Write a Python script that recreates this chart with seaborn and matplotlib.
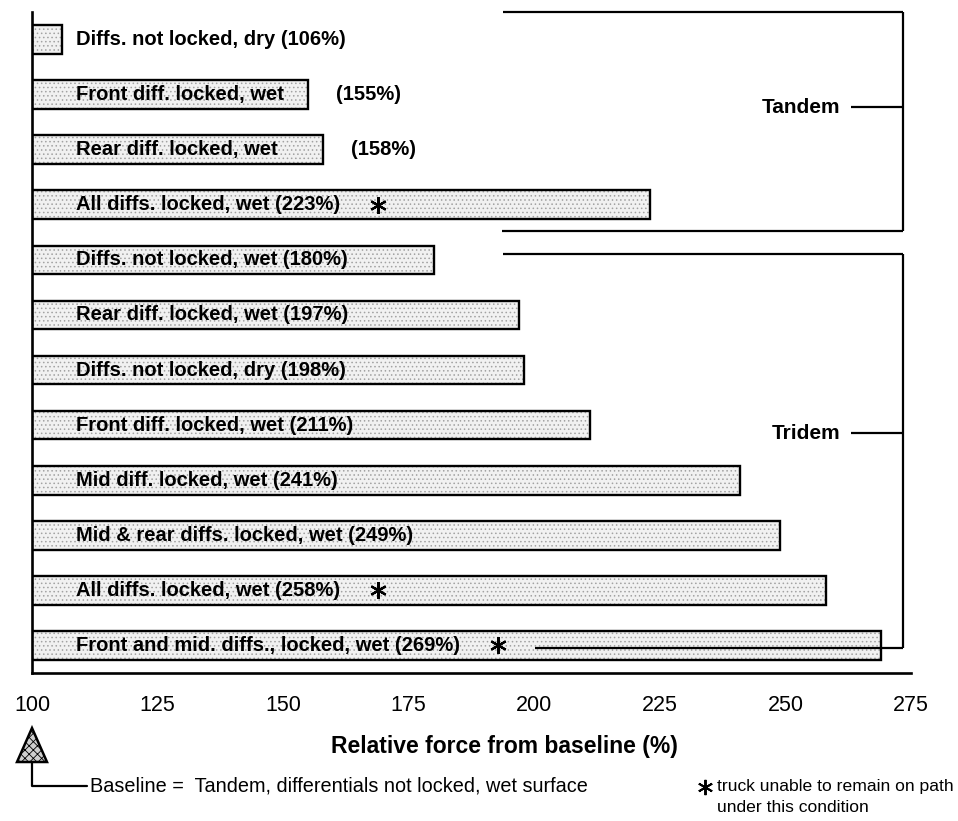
import numpy as np
import pandas as pd
import matplotlib
matplotlib.use('Agg')
import matplotlib.pyplot as plt
import seaborn as sns
from matplotlib.patches import Polygon
from matplotlib.lines import Line2D

# ---------------- data ----------------
CONDITIONS = [
    'Diffs. not locked, dry',
    'Front diff. locked, wet',
    'Rear diff. locked, wet',
    'All diffs. locked, wet',
    'Diffs. not locked, wet',
    'Rear diff. locked, wet',
    'Diffs. not locked, dry',
    'Front diff. locked, wet',
    'Mid diff. locked, wet',
    'Mid & rear diffs. locked, wet',
    'All diffs. locked, wet',
    'Front and mid. diffs., locked, wet',
]
FORCE = [106, 155, 158, 223, 180, 197, 198, 211, 241, 249, 258, 269]
AXLE = ['Tandem'] * 4 + ['Tridem'] * 8
STUCK = [False, False, False, True, False, False, False, False, False, False, True, True]
PCT_OUTSIDE = [False, True, True, False, False, False, False, False, False, False, False, False]
XTICKS = [100, 125, 150, 175, 200, 225, 250, 275]

# ---------------- style ----------------
sns.set_theme(style='white')
plt.rcParams['font.family'] = ['Liberation Sans', 'DejaVu Sans']
plt.rcParams['text.color'] = 'black'
plt.rcParams['axes.labelcolor'] = 'black'
plt.rcParams['xtick.color'] = 'black'
plt.rcParams['hatch.linewidth'] = 0.6

W, H = 958, 821
fig = plt.figure(figsize=(W / 100, H / 100), dpi=100)
ax = fig.add_axes([32 / W, 1 - 673 / H, 879 / W, 661 / H])


def fx(x):
    return x / W


def fy(y):
    return 1 - y / H


df = pd.DataFrame({'row': range(len(FORCE)), 'force': FORCE, 'cond': CONDITIONS})

# stippled fill, then black outline on top
sns.barplot(data=df, x='force', y='row', orient='y', color='#f1f1f1',
            edgecolor='#a2a2a2', linewidth=0, hatch='....', width=0.52, ax=ax)
sns.barplot(data=df, x='force', y='row', orient='y', color='black', fill=False,
            linewidth=1.7, width=0.52, ax=ax)

ax.set_xlim(100, 275)
ax.set_ylim(len(FORCE) - 0.5, -0.5)
ax.set_xticks(XTICKS)
ax.set_yticks([])
ax.set_ylabel('')
for s in ['top', 'right']:
    ax.spines[s].set_visible(False)
for s in ['left', 'bottom']:
    ax.spines[s].set_linewidth(1.9)
    ax.spines[s].set_color('black')
ax.tick_params(axis='x', direction='inout', length=14, width=1.5, pad=9,
               labelsize=15.5, colors='black')

ax.set_xlabel('Relative force from baseline (%)', fontsize=16.5, fontweight='bold')
ax.xaxis.label.set_va('center')
ax.xaxis.set_label_coords(0.538, -0.111)

LABEL_FS = 14.5

# labels in the bars
star_refs = []
for i, (name, val) in enumerate(zip(CONDITIONS, FORCE)):
    txt = name if PCT_OUTSIDE[i] else f'{name} ({val}%)'
    t = ax.text(108.8, i, txt, ha='left', va='center', fontsize=LABEL_FS,
                fontweight='bold', color='black')
    if PCT_OUTSIDE[i]:
        ax.annotate(f'({val}%)', xy=(val, i), xytext=(20, 0),
                    textcoords='offset points', ha='left', va='center',
                    fontsize=LABEL_FS, fontweight='bold')
    if STUCK[i]:
        star_refs.append((i, t))

# group brackets
def bracket(y0, y1, x0_top, x0_bot, ylab, name):
    xr = 273.5
    kw = dict(color='black', lw=1.6, clip_on=False, solid_capstyle='butt')
    ax.plot([x0_top, xr], [y0, y0], **kw)
    ax.plot([x0_bot, xr], [y1, y1], **kw)
    ax.plot([xr, xr], [y0, y1], **kw)
    ax.plot([263, xr], [ylab, ylab], **kw)
    ax.text(261, ylab, name, ha='right', va='center', fontsize=15,
            fontweight='bold')

bracket(-0.5, 3.47, 193.8, 193.6, 1.23, 'Tandem')
bracket(3.9, 11.05, 193.8, 200.2, 7.15, 'Tridem')

# asterisks placed after the label text
fig.canvas.draw()
r = fig.canvas.get_renderer()
inv = ax.transData.inverted()
star_kw = dict(marker=(6, 2, 0), markersize=12, markeredgewidth=1.6,
               color='black', linestyle='none')
for i, t in star_refs:
    bb = t.get_window_extent(r)
    xs, _ = inv.transform((bb.x1 + 38, 0))
    ax.plot([xs], [i], clip_on=False, **star_kw)

# baseline marker below axis
tri = Polygon([(fx(17), fy(762)), (fx(47), fy(762)), (fx(32), fy(728))],
              closed=True, transform=fig.transFigure, facecolor='#cfcfcf',
              edgecolor='black', lw=1.8, hatch='xxxx')
fig.add_artist(tri)
fig.add_artist(Line2D([fx(32), fx(32), fx(87)], [fy(762), fy(786), fy(786)],
                      transform=fig.transFigure, color='black', lw=1.6))
fig.text(fx(90), fy(786), 'Baseline =  Tandem, differentials not locked, wet surface',
         ha='left', va='center', fontsize=14.3)

# footnote
fig.add_artist(Line2D([fx(705)], [fy(787)], transform=fig.transFigure,
                      marker=(6, 2, 0), markersize=11, markeredgewidth=1.4,
                      color='black', linestyle='none'))
fig.text(fx(717), fy(786), 'truck unable to remain on path', ha='left', va='center', fontsize=12.6)
fig.text(fx(717), fy(807), 'under this condition', ha='left', va='center', fontsize=12.6)

fig.savefig('out.png', dpi=100)
